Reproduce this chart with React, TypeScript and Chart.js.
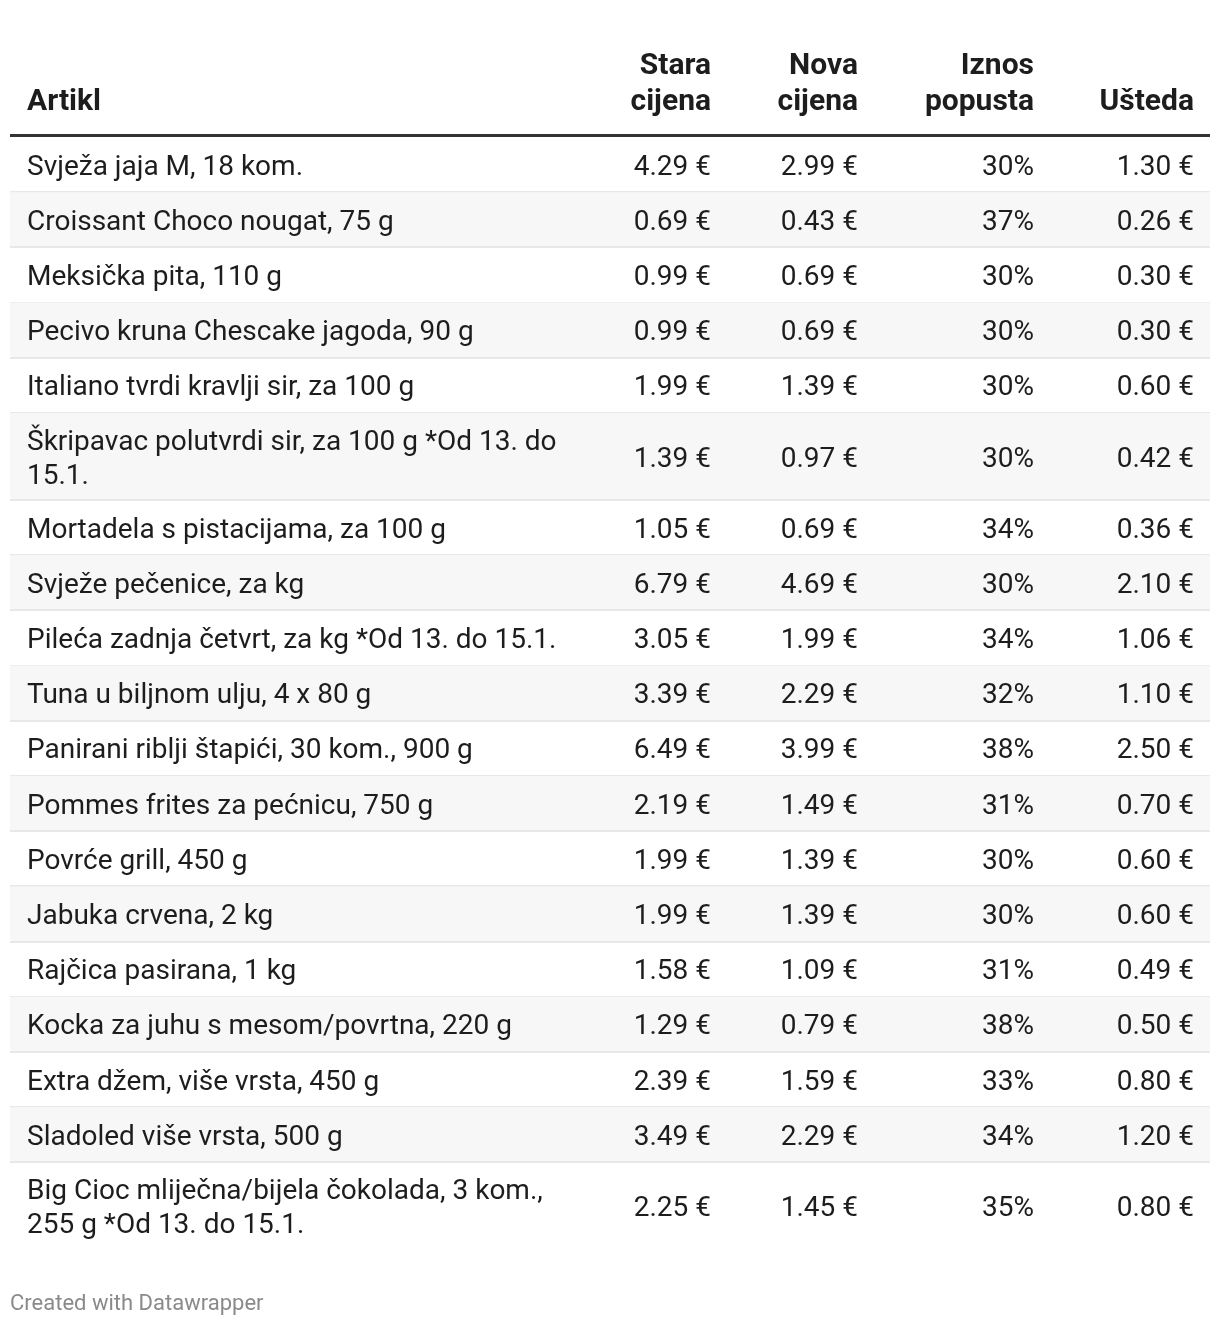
import { useEffect, useRef } from 'react';
import Chart from 'chart.js/auto';

const headers = ['Artikl', 'Stara cijena', 'Nova cijena', 'Iznos popusta', 'Ušteda'];

const items = [
  'Svježa jaja M, 18 kom.',
  'Croissant Choco nougat, 75 g',
  'Meksička pita, 110 g',
  'Pecivo kruna Chescake jagoda, 90 g',
  'Italiano tvrdi kravlji sir, za 100 g',
  'Škripavac polutvrdi sir, za 100 g *Od 13. do 15.1.',
  'Mortadela s pistacijama, za 100 g',
  'Svježe pečenice, za kg',
  'Pileća zadnja četvrt, za kg *Od 13. do 15.1.',
  'Tuna u biljnom ulju, 4 x 80 g',
  'Panirani riblji štapići, 30 kom., 900 g',
  'Pommes frites za pećnicu, 750 g',
  'Povrće grill, 450 g',
  'Jabuka crvena, 2 kg',
  'Rajčica pasirana, 1 kg',
  'Kocka za juhu s mesom/povrtna, 220 g',
  'Extra džem, više vrsta, 450 g',
  'Sladoled više vrsta, 500 g',
  'Big Cioc mliječna/bijela čokolada, 3 kom., 255 g *Od 13. do 15.1.',
];

const oldPrices = [4.29, 0.69, 0.99, 0.99, 1.99, 1.39, 1.05, 6.79, 3.05, 3.39, 6.49, 2.19, 1.99, 1.99, 1.58, 1.29, 2.39, 3.49, 2.25];
const newPrices = [2.99, 0.43, 0.69, 0.69, 1.39, 0.97, 0.69, 4.69, 1.99, 2.29, 3.99, 1.49, 1.39, 1.39, 1.09, 0.79, 1.59, 2.29, 1.45];
const discounts = [30, 37, 30, 30, 30, 30, 34, 30, 34, 32, 38, 31, 30, 30, 31, 38, 33, 34, 35];
const savings = [1.3, 0.26, 0.3, 0.3, 0.6, 0.42, 0.36, 2.1, 1.06, 1.1, 2.5, 0.7, 0.6, 0.6, 0.49, 0.5, 0.8, 1.2, 0.8];

const FONT = 'Roboto, "Noto Sans", sans-serif';
const TEXT_COLOR = '#1d1d1d';
const W = 1220;
const H = 1326;
const TABLE_LEFT = 10;
const TABLE_RIGHT = 1210;
const BODY_TOP = 137;
const ITEM_MAX_WIDTH = 550;
const LINE_GAP = 34;

function wrap(ctx: CanvasRenderingContext2D, text: string, maxWidth: number): string[] {
  const words = text.split(' ');
  const lines: string[] = [];
  let cur = '';
  for (const w of words) {
    const test = cur ? cur + ' ' + w : w;
    if (cur && ctx.measureText(test).width > maxWidth) {
      lines.push(cur);
      cur = w;
    } else {
      cur = test;
    }
  }
  if (cur) lines.push(cur);
  return lines;
}

const euro = (v: number) => v.toFixed(2) + ' €';
const pct = (v: number) => v + '%';

export default function App() {
  const canvasRef = useRef<HTMLCanvasElement | null>(null);

  useEffect(() => {
    const canvas = canvasRef.current;
    if (!canvas) return;
    const mctx = document.createElement('canvas').getContext('2d')!;
    mctx.font = `28px ${FONT}`;
    const itemLines = items.map((t) => wrap(mctx, t, ITEM_MAX_WIDTH));
    const rowHeights = itemLines.map((l) => 23.4 + 31.8 * l.length);
    const starts: number[] = [];
    let acc = 0;
    rowHeights.forEach((h) => {
      starts.push(acc);
      acc += h;
    });
    const total = acc;
    const centers = rowHeights.map((h, i) => starts[i] + h / 2);

    // column anchors in table units (x scale: 0 .. 1200 across the table)
    const columns = [
      { texts: itemLines, anchor: 17, align: 'left' as CanvasTextAlign },
      { texts: oldPrices.map((v) => [euro(v)]), anchor: 701, align: 'right' as CanvasTextAlign },
      { texts: newPrices.map((v) => [euro(v)]), anchor: 848, align: 'right' as CanvasTextAlign },
      { texts: discounts.map((v) => [pct(v)]), anchor: 1024, align: 'right' as CanvasTextAlign },
      { texts: savings.map((v) => [euro(v)]), anchor: 1184, align: 'right' as CanvasTextAlign },
    ];

    const tablePlugin = {
      id: 'tablePlugin',
      beforeDatasetsDraw(chart: any) {
        const { ctx, chartArea, scales } = chart;
        const y = scales.y;
        const left = chartArea.left;
        const width = chartArea.right - chartArea.left;
        ctx.save();
        rowHeights.forEach((h, i) => {
          const top = y.getPixelForValue(starts[i]);
          const bottom = y.getPixelForValue(starts[i] + h);
          if (i % 2 === 1) {
            ctx.fillStyle = '#f7f7f7';
            ctx.fillRect(left, top, width, bottom - top);
          }
          if (i < rowHeights.length - 1) {
            ctx.fillStyle = '#e8e8e8';
            ctx.fillRect(left, Math.round(bottom) - 1, width, 2);
          }
        });
        ctx.restore();
      },
      afterDatasetsDraw(chart: any) {
        const { ctx, chartArea, scales } = chart;
        const x = scales.x;
        ctx.save();
        // body text
        ctx.font = `28px ${FONT}`;
        ctx.fillStyle = TEXT_COLOR;
        ctx.textBaseline = 'alphabetic';
        columns.forEach((col, ci) => {
          ctx.textAlign = col.align;
          const meta = chart.getDatasetMeta(ci);
          meta.data.forEach((pt: any, ri: number) => {
            const lines = col.texts[ri];
            const n = lines.length;
            lines.forEach((line: string, li: number) => {
              const by = pt.y + 10 + (li - (n - 1) / 2) * LINE_GAP;
              ctx.fillText(line, pt.x, by);
            });
          });
        });
        // header
        ctx.font = `bold 30px ${FONT}`;
        headers.forEach((hd, ci) => {
          const col = columns[ci];
          ctx.textAlign = col.align;
          const lines = ci === 0 ? [hd] : wrap(ctx, hd, 140);
          const px = x.getPixelForValue(col.anchor);
          lines.forEach((line, li) => {
            const by = 110 - (lines.length - 1 - li) * 36;
            ctx.fillText(line, px, by);
          });
        });
        // header rule
        ctx.fillStyle = '#333333';
        ctx.fillRect(chartArea.left, chartArea.top - 3, chartArea.right - chartArea.left, 3);
        // footer
        ctx.font = `22px ${FONT}`;
        ctx.fillStyle = '#8a8a8a';
        ctx.textAlign = 'left';
        ctx.fillText('Created with Datawrapper', 10, 1310);
        ctx.restore();
      },
    };

    const chart = new Chart(canvas, {
      type: 'scatter',
      data: {
        datasets: columns.map((col, ci) => ({
          label: headers[ci],
          data: centers.map((c) => ({ x: col.anchor, y: c })),
          pointRadius: 0,
          pointHoverRadius: 0,
          showLine: false,
        })),
      },
      options: {
        responsive: false,
        animation: false,
        events: [],
        layout: {
          padding: {
            left: TABLE_LEFT,
            right: W - TABLE_RIGHT,
            top: BODY_TOP,
            bottom: H - BODY_TOP - total,
          },
        },
        scales: {
          x: { type: 'linear', min: 0, max: TABLE_RIGHT - TABLE_LEFT, display: false },
          y: { type: 'linear', min: 0, max: total, reverse: true, display: false },
        },
        plugins: {
          legend: { display: false },
          tooltip: { enabled: false },
        },
      },
      plugins: [tablePlugin],
    });
    return () => chart.destroy();
  }, []);

  return (
    <div style={{ position: 'absolute', left: 0, top: 0, width: W, height: H, background: '#ffffff' }}>
      <canvas ref={canvasRef} width={W} height={H} style={{ display: 'block', width: W, height: H }} />
    </div>
  );
}
